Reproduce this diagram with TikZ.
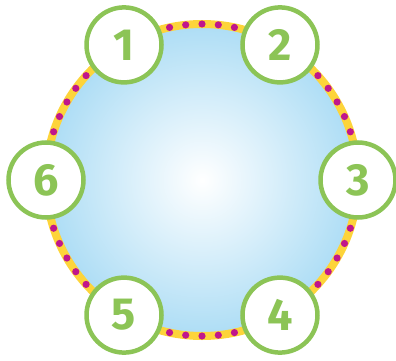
\documentclass[tikz,border=0pt]{standalone}
\usepackage{xcolor}
\usepackage{fontspec}
\setsansfont{Fira Sans}
\usetikzlibrary{positioning, calc}
\definecolor{discouter}{HTML}{ADDDF5}
\definecolor{ringyellow}{HTML}{FDD43A}
\definecolor{dotmagenta}{HTML}{C0168C}
\definecolor{numgreen}{HTML}{8CC456}
\tikzset{
  disc/.style={
    circle,
    inner sep=0pt,
    outer sep=0pt,
    minimum size=312pt,
    inner color=white,
    outer color=discouter,
    draw=ringyellow,
    line width=8pt
  },
  ringdot/.style={
    fill=dotmagenta
  },
  numcircle/.style={
    circle,
    draw=numgreen,
    fill=white,
    line width=4.5pt,
    inner sep=0pt,
    outer sep=0pt,
    minimum size=75pt,
    text=numgreen,
    font=\sffamily\bfseries\fontsize{45}{45}\selectfont
  }
}
\begin{document}
\begin{tikzpicture}[x=1pt, y=1pt]
  \useasboundingbox (0,0) rectangle (396,360);

  % Disc and ring
  \node (disc) [disc] at (202,180) {};
  \foreach \a in {0,6,...,354}
    \fill [ringdot] (disc.center) ++(\a:156) circle (3.6);

  % Numbers
  \node (n1) [numcircle] at (disc.120) {1};
  \node (n2) [numcircle] at (disc.60) {2};
  \node (n3) [numcircle] at (disc.0) {3};
  \node (n4) [numcircle] at (disc.-60) {4};
  \node (n5) [numcircle] at (disc.-120) {5};
  \node (n6) [numcircle] at (disc.180) {6};

\end{tikzpicture}
\end{document}
